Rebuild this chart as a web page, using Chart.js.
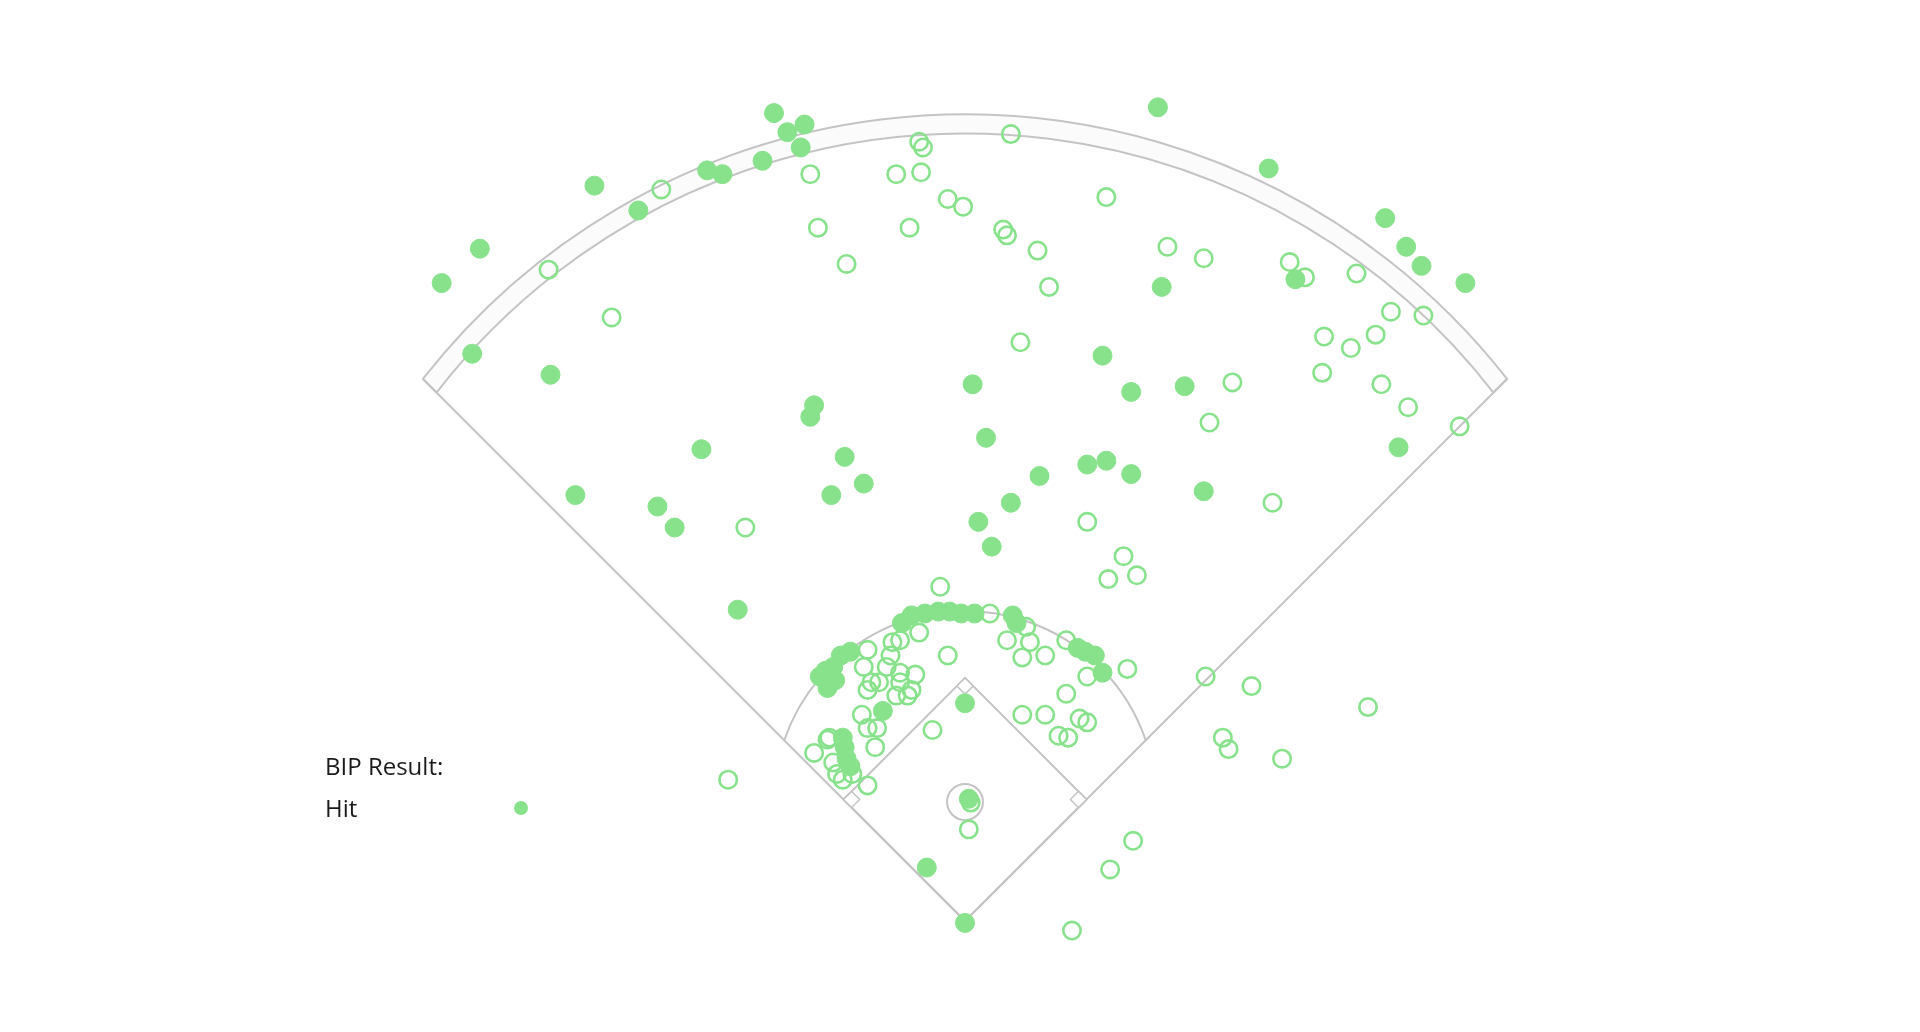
<!DOCTYPE html>
<html>
<head>
<meta charset="utf-8">
<script src="https://cdn.jsdelivr.net/npm/chart.js@4.4.1/dist/chart.umd.min.js"></script>
<style>
html,body{margin:0;padding:0;background:#fff;overflow:hidden}
#wrap{position:relative;width:1920px;height:1032px}
#chart{position:absolute;left:0;top:0}
.lg{position:absolute;white-space:nowrap;font-family:"Open Sans","Noto Sans",sans-serif;font-size:24px;line-height:30px;color:#1b1b1b}
.dot{position:absolute;width:14px;height:14px;border-radius:50%}
</style>
</head>
<body>
<div id="wrap">
  <canvas id="chart" width="1920" height="1032"></canvas>
  <div id="lgTitle" class="lg" style="left:325px;top:751px"></div>
  <div id="lgItem" class="lg" style="left:325px;top:793px"></div>
  <div id="lgDot" class="dot" style="left:514px;top:801px"></div>
</div>
<script>
// ---- Data (field coordinates in feet, home plate at 0,0; x toward 1B side, y toward CF) ----
const legendTitle = 'BIP Result:';
const legendLabels = ['Hit'];

const hitX = [-100,-93,-84,-86,-106,-135,-127,-194,-171,-254,
  -274,-258,-217,101,159,220,231,239,262,173,
  103,72,4,87,115,227,125,-79,-81,-138,
  -204,-161,-152,-119,-63,-53,-70,11,39,64,
  74,87,24,7,14,-33,-28,-21,-14,-8,
  -2,5,25,27,59,63,68,72,-76,-72,
  -69,-65,-60,-68,-73,-43,-64,-63,-62,-60,
  0,2,-20,0];
const hitY = [423,413,417,405,398,393,391,385,372,352,
  334,297,286,426,394,368,353,343,334,336,
  332,296,281,277,280,248,225,270,264,247,
  223,217,206,163,243,229,223,253,233,239,
  241,234,219,209,196,156,160,161,162,162,
  161,161,160,156,143,141,139,130,128,122,
  133,139,141,126,131,110,96,91,85,81,
  114,64,28,-1];

const outX = [-159,-218,-185,-24,-22,24,-81,-36,-23,-9,
  -1,74,-77,-29,20,22,38,106,125,-62,
  44,29,170,178,205,223,240,188,215,202,
  187,218,140,232,259,128,161,126,150,211,
  -115,64,83,75,90,-13,13,32,22,34,
  30,42,53,64,85,53,30,42,60,64,
  49,54,-9,-17,3,2,56,88,76,135,
  138,166,-124,-51,-24,-34,-51,-53,-49,-39,
  -41,-34,-26,-36,-30,-28,-54,-51,-46,-47,
  -79,-71,-69,-67,-64,-59,-72,-45,-34,-38,
  -51];
const outY = [383,341,316,408,405,412,391,391,392,378,
  374,379,363,363,362,359,351,353,347,344,
  332,303,345,337,339,319,317,306,307,300,
  287,281,282,269,259,261,219,128,123,112,
  206,209,191,179,181,175,161,154,147,146,
  138,139,147,128,132,119,108,108,106,104,
  97,96,139,100,62,48,-5,42,27,96,
  90,85,74,71,151,147,142,133,125,139,
  133,130,129,118,118,121,108,101,101,91,
  88,96,83,77,74,77,95,125,125,146,
  121];

// ---- Field geometry (feet) ----
const FIELD = {moundY: 62.3, moundR: 9.4, basePath: 90, infieldR: 100, innerWallR: 350, outerWallR: 360, baseSize: 6};

// ---- Styles ----
const GREEN = '#88e28c';
const LINE = '#c4c4c4';

document.getElementById('lgTitle').textContent = legendTitle;
document.getElementById('lgItem').textContent = legendLabels[0];
document.getElementById('lgDot').style.background = GREEN;

const fieldPlugin = {
  id: 'field',
  beforeDatasetsDraw(chart) {
    const {ctx, scales: {x, y}} = chart;
    const P = (fx, fy) => [x.getPixelForValue(fx), y.getPixelForValue(fy)];
    const ppf = x.getPixelForValue(1) - x.getPixelForValue(0);
    const my = FIELD.moundY;
    const [mx, mpy] = P(0, my);
    const tFor = R => { const a = my * Math.SQRT2; return (a + Math.sqrt(a * a - 4 * (my * my - R * R))) / 2; };
    const angFor = R => { const t = tFor(R) / Math.SQRT2; return Math.atan2(t - my, t); };
    ctx.save();
    ctx.lineWidth = 2;
    ctx.strokeStyle = LINE;
    ctx.lineJoin = 'round';
    // outfield wall band
    const aO = angFor(FIELD.outerWallR), aI = angFor(FIELD.innerWallR);
    ctx.beginPath();
    ctx.arc(mx, mpy, FIELD.outerWallR * ppf, aO - Math.PI, -aO);
    ctx.arc(mx, mpy, FIELD.innerWallR * ppf, -aI, aI - Math.PI, true);
    ctx.closePath();
    ctx.fillStyle = '#fbfbfc';
    ctx.fill();
    ctx.stroke();
    // foul lines
    const tO = tFor(FIELD.outerWallR) / Math.SQRT2;
    const [hx, hy] = P(0, 0);
    const [lx, ly] = P(-tO, tO);
    const [rx, ry] = P(tO, tO);
    ctx.beginPath();
    ctx.moveTo(lx, ly); ctx.lineTo(hx, hy); ctx.lineTo(rx, ry);
    ctx.stroke();
    // infield grass arc
    const aF = angFor(FIELD.infieldR);
    ctx.beginPath();
    ctx.arc(mx, mpy, FIELD.infieldR * ppf, aF - Math.PI, -aF);
    ctx.stroke();
    // base paths
    const b = FIELD.basePath / Math.SQRT2;
    const bases = [[b, b], [0, 2 * b], [-b, b]];
    ctx.beginPath();
    ctx.moveTo(hx, hy);
    bases.forEach(p => { const q = P(p[0], p[1]); ctx.lineTo(q[0], q[1]); });
    ctx.closePath();
    ctx.stroke();
    // bases (small squares inside the diamond)
    const s = FIELD.baseSize / Math.SQRT2;
    const drawBase = (cx, cy, u, v) => {
      const pts = [[cx, cy], [cx + u[0] * s, cy + u[1] * s], [cx + (u[0] + v[0]) * s, cy + (u[1] + v[1]) * s], [cx + v[0] * s, cy + v[1] * s]].map(p => P(p[0], p[1]));
      ctx.beginPath();
      ctx.moveTo(pts[0][0], pts[0][1]);
      pts.slice(1).forEach(p => ctx.lineTo(p[0], p[1]));
      ctx.closePath();
      ctx.fillStyle = '#fff';
      ctx.fill();
      ctx.lineWidth = 1.5;
      ctx.stroke();
    };
    drawBase(b, b, [-1, -1], [-1, 1]);
    drawBase(0, 2 * b, [1, -1], [-1, -1]);
    drawBase(-b, b, [1, -1], [1, 1]);
    // mound
    ctx.lineWidth = 2;
    ctx.beginPath();
    ctx.arc(mx, mpy, FIELD.moundR * ppf, 0, Math.PI * 2);
    ctx.stroke();
    ctx.restore();
  }
};

const toPts = (xs, ys) => xs.map((v, i) => ({x: v, y: ys[i]}));

new Chart(document.getElementById('chart'), {
  type: 'scatter',
  data: {
    datasets: [
      {label: legendLabels[0], data: toPts(hitX, hitY), pointRadius: 9.5, pointBackgroundColor: GREEN, pointBorderColor: GREEN, pointBorderWidth: 1, clip: false},
      {label: 'Out', data: toPts(outX, outY), pointRadius: 8.7, pointBackgroundColor: 'rgba(255,255,255,0)', pointBorderColor: GREEN, pointBorderWidth: 2.6, clip: false}
    ]
  },
  options: {
    responsive: false,
    animation: false,
    events: [],
    layout: {padding: 0, autoPadding: false},
    plugins: {legend: {display: false}, tooltip: {enabled: false}},
    scales: {
      x: {type: 'linear', min: -965 / 1.91, max: 955 / 1.91, display: false},
      y: {type: 'linear', min: -111 / 1.91, max: 921 / 1.91, display: false}
    }
  },
  plugins: [fieldPlugin]
});
</script>
</body>
</html>
